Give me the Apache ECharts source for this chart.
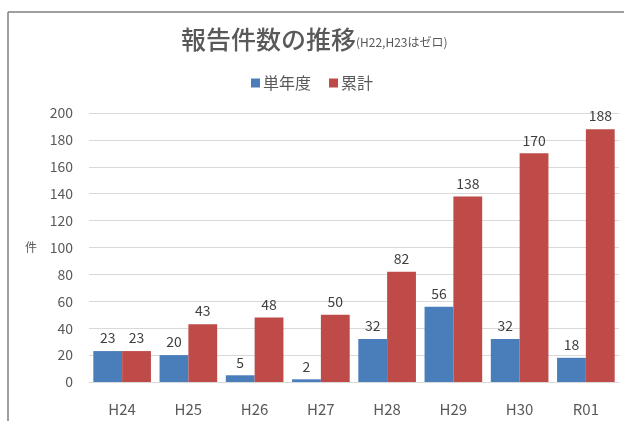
<!DOCTYPE html>
<html><head><meta charset="utf-8">
<script src="https://cdn.jsdelivr.net/npm/echarts@6/dist/echarts.min.js"></script>
<style>html,body{margin:0;padding:0;background:#fff}#c{width:624px;height:421px}</style>
</head><body><div id="c"></div>
<script>
const categories = ['H24','H25','H26','H27','H28','H29','H30','R01'];
const singleYear = [23,20,5,2,32,56,32,18];
const cumulative = [23,43,48,50,82,138,170,188];
const seriesNames = ['単年度','累計'];
const yTicks = {min:0,max:200,interval:20};

const FONT = '"Noto Sans CJK JP", sans-serif';
const chart = echarts.init(document.getElementById('c'), null, {renderer:'canvas'});
chart.setOption({
  animation:false,
  textStyle:{fontFamily:FONT},
  title:{
    text:'{a|報告件数の推移}{b|(H22,H23はゼロ)}',
    left:176, top:22,
    textStyle:{rich:{
      a:{fontSize:25,color:'#595959',fontFamily:FONT,fontWeight:500},
      b:{fontSize:12,color:'#595959',fontFamily:FONT,fontWeight:'normal',padding:[6,0,0,0]}
    }}
  },
  legend:{
    data:seriesNames, top:70, left:'center',
    itemWidth:9, itemHeight:9, itemGap:18,
    icon:'rect',
    textStyle:{fontSize:16,color:'#595959',fontFamily:FONT,padding:[0,0,0,-2]}
  },
  grid:{left:89,right:5,top:113,bottom:39,containLabel:false},
  xAxis:{
    type:'category', data:categories,
    axisLine:{lineStyle:{color:'#d9d9d9'}},
    axisTick:{show:false},
    axisLabel:{fontSize:15,color:'#595959',margin:20,fontFamily:FONT}
  },
  yAxis:{
    type:'value', min:yTicks.min, max:yTicks.max, interval:yTicks.interval,
    name:'件', nameLocation:'middle', nameRotate:0, nameGap:52,
    nameTextStyle:{fontSize:12,color:'#595959',fontFamily:FONT},
    axisLine:{show:false}, axisTick:{show:false},
    axisLabel:{fontSize:14,color:'#595959',margin:16,fontFamily:FONT},
    splitLine:{lineStyle:{color:'#d9d9d9'}}
  },
  series:[
    {name:seriesNames[0],type:'bar',data:singleYear,barGap:'0%',barCategoryGap:'13%',
     itemStyle:{color:'#4a7ebb'},
     label:{show:true,position:'top',fontSize:14,color:'#404040',distance:6,fontFamily:FONT}},
    {name:seriesNames[1],type:'bar',data:cumulative,
     itemStyle:{color:'#be4b48'},
     label:{show:true,position:'top',fontSize:14,color:'#404040',distance:6,fontFamily:FONT}}
  ],
  graphic:[
    {type:'line',shape:{x1:8,y1:12,x2:624,y2:12},style:{stroke:'#7f7f7f',lineWidth:1.5}},
    {type:'line',shape:{x1:8,y1:12,x2:8,y2:421},style:{stroke:'#7f7f7f',lineWidth:1.5}}
  ]
});
</script></body></html>
